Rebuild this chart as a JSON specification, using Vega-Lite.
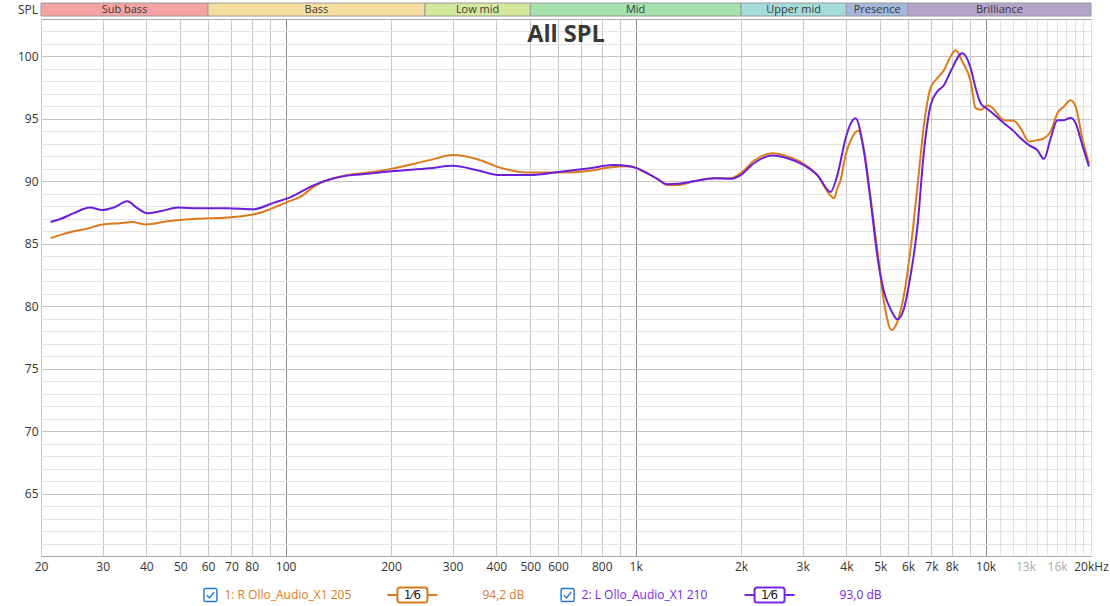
{
  "$schema": "https://vega.github.io/schema/vega-lite/v6.json",
  "background": "white",
  "padding": {"left": 16, "top": 2, "right": 0, "bottom": 0},
  "spacing": 3,
  "bounds": "flush",
  "config": {"font": "Open Sans", "view": {"stroke": null}},
  "resolve": {"scale": {"x": "independent", "color": "independent", "fill": "independent"}},
  "datasets": {
    "bands": [
      {"band": "Sub bass", "lo": 20, "hi": 60},
      {"band": "Bass", "lo": 60, "hi": 250},
      {"band": "Low mid", "lo": 250, "hi": 500},
      {"band": "Mid", "lo": 500, "hi": 2000},
      {"band": "Upper mid", "lo": 2000, "hi": 4000},
      {"band": "Presence", "lo": 4000, "hi": 6000},
      {"band": "Brilliance", "lo": 6000, "hi": 20000}
    ],
    "legend": [
      {"series": "R", "name": "1: R Ollo_Audio_X1 205", "smooth": "1⁄6", "level": "94,2 dB"},
      {"series": "L", "name": "2: L Ollo_Audio_X1 210", "smooth": "1⁄6", "level": "93,0 dB"}
    ],
    "curves": [
      {"series": "R", "f": 21.3, "spl": 85.45}, {"series": "R", "f": 24.3, "spl": 85.95}, {"series": "R", "f": 27, "spl": 86.2},
      {"series": "R", "f": 30, "spl": 86.55}, {"series": "R", "f": 33.5, "spl": 86.65}, {"series": "R", "f": 36.4, "spl": 86.75},
      {"series": "R", "f": 40, "spl": 86.55}, {"series": "R", "f": 45.9, "spl": 86.8}, {"series": "R", "f": 50, "spl": 86.9},
      {"series": "R", "f": 56, "spl": 87.0}, {"series": "R", "f": 68, "spl": 87.1}, {"series": "R", "f": 79, "spl": 87.3},
      {"series": "R", "f": 86, "spl": 87.55}, {"series": "R", "f": 92.7, "spl": 87.9}, {"series": "R", "f": 100, "spl": 88.3},
      {"series": "R", "f": 110, "spl": 88.75}, {"series": "R", "f": 120.6, "spl": 89.6}, {"series": "R", "f": 150, "spl": 90.5},
      {"series": "R", "f": 171.5, "spl": 90.7}, {"series": "R", "f": 200, "spl": 91.0}, {"series": "R", "f": 258, "spl": 91.7},
      {"series": "R", "f": 300, "spl": 92.1}, {"series": "R", "f": 355, "spl": 91.75}, {"series": "R", "f": 410, "spl": 91.1},
      {"series": "R", "f": 500, "spl": 90.7}, {"series": "R", "f": 609, "spl": 90.7}, {"series": "R", "f": 740, "spl": 90.85},
      {"series": "R", "f": 840, "spl": 91.1}, {"series": "R", "f": 930, "spl": 91.2}, {"series": "R", "f": 1000, "spl": 91.1},
      {"series": "R", "f": 1056, "spl": 90.75}, {"series": "R", "f": 1153, "spl": 90.2}, {"series": "R", "f": 1231, "spl": 89.7},
      {"series": "R", "f": 1316, "spl": 89.7}, {"series": "R", "f": 1467, "spl": 90.0}, {"series": "R", "f": 1673, "spl": 90.25},
      {"series": "R", "f": 1867, "spl": 90.25}, {"series": "R", "f": 1995, "spl": 90.65}, {"series": "R", "f": 2178, "spl": 91.65},
      {"series": "R", "f": 2457, "spl": 92.25}, {"series": "R", "f": 2713, "spl": 92.0}, {"series": "R", "f": 3024, "spl": 91.4},
      {"series": "R", "f": 3304, "spl": 90.5}, {"series": "R", "f": 3608, "spl": 88.85}, {"series": "R", "f": 3690, "spl": 88.65},
      {"series": "R", "f": 3770, "spl": 89.45}, {"series": "R", "f": 3851, "spl": 90.1}, {"series": "R", "f": 3981, "spl": 92.1},
      {"series": "R", "f": 4150, "spl": 93.5}, {"series": "R", "f": 4327, "spl": 94.05}, {"series": "R", "f": 4489, "spl": 92.6},
      {"series": "R", "f": 4693, "spl": 88.65}, {"series": "R", "f": 4900, "spl": 84.6}, {"series": "R", "f": 5120, "spl": 80.4},
      {"series": "R", "f": 5385, "spl": 78.1}, {"series": "R", "f": 5594, "spl": 78.77}, {"series": "R", "f": 5841, "spl": 80.9},
      {"series": "R", "f": 6104, "spl": 84.6}, {"series": "R", "f": 6378, "spl": 89.45}, {"series": "R", "f": 6664, "spl": 94.5},
      {"series": "R", "f": 6963, "spl": 97.5}, {"series": "R", "f": 7276, "spl": 98.26}, {"series": "R", "f": 7598, "spl": 98.9},
      {"series": "R", "f": 7940, "spl": 100.0}, {"series": "R", "f": 8206, "spl": 100.5}, {"series": "R", "f": 8577, "spl": 99.6},
      {"series": "R", "f": 9063, "spl": 98.0}, {"series": "R", "f": 9365, "spl": 95.86}, {"series": "R", "f": 9679, "spl": 95.73},
      {"series": "R", "f": 10110, "spl": 96.07}, {"series": "R", "f": 10330, "spl": 96.0}, {"series": "R", "f": 11277, "spl": 94.9},
      {"series": "R", "f": 12045, "spl": 94.85}, {"series": "R", "f": 12590, "spl": 94.25}, {"series": "R", "f": 13297, "spl": 93.2},
      {"series": "R", "f": 14054, "spl": 93.3}, {"series": "R", "f": 14675, "spl": 93.45}, {"series": "R", "f": 15338, "spl": 94.0},
      {"series": "R", "f": 16030, "spl": 95.46}, {"series": "R", "f": 16740, "spl": 96.0}, {"series": "R", "f": 17495, "spl": 96.5},
      {"series": "R", "f": 18075, "spl": 96.0}, {"series": "R", "f": 18890, "spl": 93.45}, {"series": "R", "f": 19730, "spl": 91.45},
      {"series": "L", "f": 21.3, "spl": 86.75}, {"series": "L", "f": 22.8, "spl": 87.0}, {"series": "L", "f": 24.8, "spl": 87.45},
      {"series": "L", "f": 27.6, "spl": 87.9}, {"series": "L", "f": 29.9, "spl": 87.7}, {"series": "L", "f": 32.3, "spl": 87.9},
      {"series": "L", "f": 35.3, "spl": 88.4}, {"series": "L", "f": 37.7, "spl": 87.85}, {"series": "L", "f": 40.2, "spl": 87.45},
      {"series": "L", "f": 43.8, "spl": 87.6}, {"series": "L", "f": 49.3, "spl": 87.9}, {"series": "L", "f": 55.9, "spl": 87.85},
      {"series": "L", "f": 68.1, "spl": 87.85}, {"series": "L", "f": 81, "spl": 87.77}, {"series": "L", "f": 92.7, "spl": 88.3},
      {"series": "L", "f": 102.6, "spl": 88.7}, {"series": "L", "f": 120.6, "spl": 89.7}, {"series": "L", "f": 150, "spl": 90.46},
      {"series": "L", "f": 171.5, "spl": 90.6}, {"series": "L", "f": 200, "spl": 90.8}, {"series": "L", "f": 258, "spl": 91.05},
      {"series": "L", "f": 300, "spl": 91.24}, {"series": "L", "f": 355, "spl": 90.87}, {"series": "L", "f": 410, "spl": 90.5},
      {"series": "L", "f": 500, "spl": 90.5}, {"series": "L", "f": 609, "spl": 90.76}, {"series": "L", "f": 740, "spl": 91.05},
      {"series": "L", "f": 860, "spl": 91.3}, {"series": "L", "f": 960, "spl": 91.2}, {"series": "L", "f": 1056, "spl": 90.8},
      {"series": "L", "f": 1153, "spl": 90.2}, {"series": "L", "f": 1231, "spl": 89.77}, {"series": "L", "f": 1316, "spl": 89.8},
      {"series": "L", "f": 1467, "spl": 90.0}, {"series": "L", "f": 1673, "spl": 90.25}, {"series": "L", "f": 1867, "spl": 90.2},
      {"series": "L", "f": 1995, "spl": 90.5}, {"series": "L", "f": 2178, "spl": 91.45}, {"series": "L", "f": 2457, "spl": 92.07},
      {"series": "L", "f": 2713, "spl": 91.85}, {"series": "L", "f": 3024, "spl": 91.3}, {"series": "L", "f": 3304, "spl": 90.5},
      {"series": "L", "f": 3608, "spl": 89.15}, {"series": "L", "f": 3770, "spl": 90.5}, {"series": "L", "f": 3981, "spl": 93.45},
      {"series": "L", "f": 4113, "spl": 94.6}, {"series": "L", "f": 4251, "spl": 95.06}, {"series": "L", "f": 4489, "spl": 92.4},
      {"series": "L", "f": 4693, "spl": 88.4}, {"series": "L", "f": 4900, "spl": 84.1}, {"series": "L", "f": 5120, "spl": 81.2},
      {"series": "L", "f": 5385, "spl": 79.6}, {"series": "L", "f": 5594, "spl": 78.95}, {"series": "L", "f": 5841, "spl": 79.8},
      {"series": "L", "f": 6104, "spl": 82.5}, {"series": "L", "f": 6378, "spl": 86.25}, {"series": "L", "f": 6664, "spl": 92.4},
      {"series": "L", "f": 6963, "spl": 96.1}, {"series": "L", "f": 7276, "spl": 97.2}, {"series": "L", "f": 7598, "spl": 97.7},
      {"series": "L", "f": 7940, "spl": 98.8}, {"series": "L", "f": 8577, "spl": 100.26}, {"series": "L", "f": 9063, "spl": 99.06},
      {"series": "L", "f": 9365, "spl": 97.46}, {"series": "L", "f": 9679, "spl": 96.26}, {"series": "L", "f": 10110, "spl": 95.8},
      {"series": "L", "f": 10330, "spl": 95.6}, {"series": "L", "f": 11277, "spl": 94.66}, {"series": "L", "f": 12045, "spl": 94.0},
      {"series": "L", "f": 12590, "spl": 93.45}, {"series": "L", "f": 13297, "spl": 92.9}, {"series": "L", "f": 14054, "spl": 92.5},
      {"series": "L", "f": 14675, "spl": 91.8}, {"series": "L", "f": 15338, "spl": 93.45}, {"series": "L", "f": 16030, "spl": 94.9},
      {"series": "L", "f": 16740, "spl": 94.9}, {"series": "L", "f": 17495, "spl": 95.1}, {"series": "L", "f": 18075, "spl": 94.66},
      {"series": "L", "f": 18890, "spl": 92.9}, {"series": "L", "f": 19730, "spl": 91.2}
    ]
  },
  "vconcat": [
    {
      "width": 1050,
      "height": 13,
      "data": {"name": "bands"},
      "title": {"text": "SPL", "orient": "left", "angle": 0, "align": "right", "baseline": "middle", "anchor": "middle", "offset": -17.5, "fontSize": 12, "fontWeight": "normal", "color": "#333333", "font": "Open Sans"},
      "transform": [{"calculate": "sqrt(datum.lo * datum.hi)", "as": "mid"}],
      "layer": [
        {
          "mark": {"type": "rect", "stroke": "#9a9a9a", "strokeWidth": 1},
          "encoding": {
            "x": {"field": "lo", "type": "quantitative", "scale": {"type": "log", "domain": [20, 20000], "nice": false}, "axis": null},
            "x2": {"field": "hi"},
            "fill": {"field": "band", "type": "nominal", "legend": null,
              "scale": {"domain": ["Sub bass", "Bass", "Low mid", "Mid", "Upper mid", "Presence", "Brilliance"],
                        "range": ["#f4a2a2", "#f6dea0", "#d5e99c", "#a5e2ad", "#a3dcd8", "#a3b6dc", "#b5a3c9"]}}
          }
        },
        {
          "mark": {"type": "text", "fontSize": 11, "color": "#3a3a3a", "font": "Open Sans"},
          "encoding": {
            "x": {"field": "mid", "type": "quantitative"},
            "text": {"field": "band"}
          }
        }
      ]
    },
    {
      "width": 1050,
      "height": 537,
      "view": {"stroke": "#a8a8a8"},
      "title": {"text": "All SPL", "frame": "group", "anchor": "middle", "baseline": "alphabetic", "offset": -46.5, "fontSize": 23.5, "fontWeight": "bold", "color": "#383838", "font": "Open Sans"},
      "data": {"name": "curves"},
      "encoding": {
        "x": {"field": "f", "type": "quantitative",
          "scale": {"type": "log", "domain": [20, 20000], "nice": false},
          "axis": {
            "title": null,
            "values": [20, 30, 40, 50, 60, 70, 80, 90, 100, 200, 300, 400, 500, 600, 700, 800, 900, 1000, 2000, 3000, 4000, 5000, 6000, 7000, 8000, 9000, 10000, 11000, 12000, 13000, 14000, 15000, 16000, 17000, 18000, 19000, 20000],
            "labelExpr": "indexof([20,30,40,50,60,70,80,100,200,300,400,500,600,800], datum.value) >= 0 ? '' + datum.value : (indexof([1000,2000,3000,4000,5000,6000,7000,8000,10000,13000,16000], datum.value) >= 0 ? (datum.value / 1000) + 'k' : (datum.value == 20000 ? '20kHz' : ''))",
            "grid": true,
            "gridColor": {"condition": [
              {"test": "datum.value == 100 || datum.value == 1000 || datum.value == 10000", "value": "#8c8c8c"},
              {"test": "datum.value > 10000", "value": "#e2e2e2"}
            ], "value": "#c9c9c9"},
            "ticks": false,
            "domain": false,
            "labelPadding": 5,
            "labelFontSize": 12,
            "labelFont": "Open Sans",
            "labelColor": {"condition": {"test": "datum.value == 13000 || datum.value == 16000", "value": "#a8a8a8"}, "value": "#333333"},
            "labelOverlap": false,
            "labelFlush": false,
            "labelBound": false
          }
        },
        "y": {"field": "spl", "type": "quantitative",
          "scale": {"domain": [60, 103], "nice": false, "zero": false},
          "axis": {
            "title": null,
            "values": [61, 62, 63, 64, 65, 66, 67, 68, 69, 70, 71, 72, 73, 74, 75, 76, 77, 78, 79, 80, 81, 82, 83, 84, 85, 86, 87, 88, 89, 90, 91, 92, 93, 94, 95, 96, 97, 98, 99, 100, 101, 102],
            "labelExpr": "datum.value % 5 == 0 ? '' + datum.value : ''",
            "grid": true,
            "gridColor": {"condition": {"test": "datum.value % 5 == 0", "value": "#c4c4c4"}, "value": "#e4e4e4"},
            "ticks": false,
            "domain": false,
            "labelPadding": 3,
            "labelFontSize": 12,
            "labelFont": "Open Sans",
            "labelColor": "#333333",
            "labelOverlap": false,
            "labelBound": false
          }
        },
        "color": {"field": "series", "type": "nominal", "legend": null,
          "scale": {"domain": ["R", "L"], "range": ["#dc7a1e", "#6a1fd8"]}}
      },
      "layer": [
        {"transform": [{"filter": "datum.series == 'R'"}], "mark": {"type": "line", "interpolate": "monotone", "strokeWidth": 2}},
        {"transform": [{"filter": "datum.series == 'L'"}], "mark": {"type": "line", "interpolate": "monotone", "strokeWidth": 2}}
      ]
    },
    {
      "width": 1050,
      "height": 20,
      "data": {"name": "legend"},
      "encoding": {
        "x": {"field": "series", "type": "nominal", "sort": ["R", "L"], "scale": {"type": "point", "padding": 0.97}, "axis": null}
      },
      "layer": [
        {
          "mark": {"type": "point", "shape": "M-0.75,-1H0.75Q1,-1 1,-0.75V0.75Q1,1 0.75,1H-0.75Q-1,1 -1,0.75V-0.75Q-1,-1 -0.75,-1Z M-0.55,0.05L-0.15,0.45L0.55,-0.45", "size": 169, "filled": false, "color": "#1f78d1", "strokeWidth": 1.4, "xOffset": -177, "yOffset": 26, "opacity": 1},
          "encoding": {}
        },
        {
          "mark": {"type": "text", "align": "left", "fontSize": 12, "font": "Open Sans", "xOffset": -163, "yOffset": 26},
          "encoding": {
            "text": {"field": "name"},
            "color": {"field": "series", "type": "nominal", "legend": null, "scale": {"domain": ["R", "L"], "range": ["#dc7a1e", "#7428e0"]}}
          }
        },
        {
          "mark": {"type": "point", "shape": "M-1,0H-0.6 M0.6,0H1 M-0.5,-0.3H0.5Q0.6,-0.3 0.6,-0.2V0.2Q0.6,0.3 0.5,0.3H-0.5Q-0.6,0.3 -0.6,0.2V-0.2Q-0.6,-0.3 -0.5,-0.3Z", "size": 2500, "filled": false, "strokeWidth": 2, "xOffset": 25, "yOffset": 26, "opacity": 1},
          "encoding": {
            "color": {"field": "series", "type": "nominal", "legend": null, "scale": {"domain": ["R", "L"], "range": ["#dc7a1e", "#7428e0"]}}
          }
        },
        {
          "mark": {"type": "text", "align": "center", "fontSize": 12, "font": "DejaVu Sans", "color": "#222222", "xOffset": 25, "yOffset": 26},
          "encoding": {"text": {"field": "smooth"}}
        },
        {
          "mark": {"type": "text", "align": "center", "fontSize": 12, "font": "Open Sans", "xOffset": 116, "yOffset": 26},
          "encoding": {
            "text": {"field": "level"},
            "color": {"field": "series", "type": "nominal", "legend": null, "scale": {"domain": ["R", "L"], "range": ["#dc7a1e", "#7428e0"]}}
          }
        }
      ]
    }
  ]
}
